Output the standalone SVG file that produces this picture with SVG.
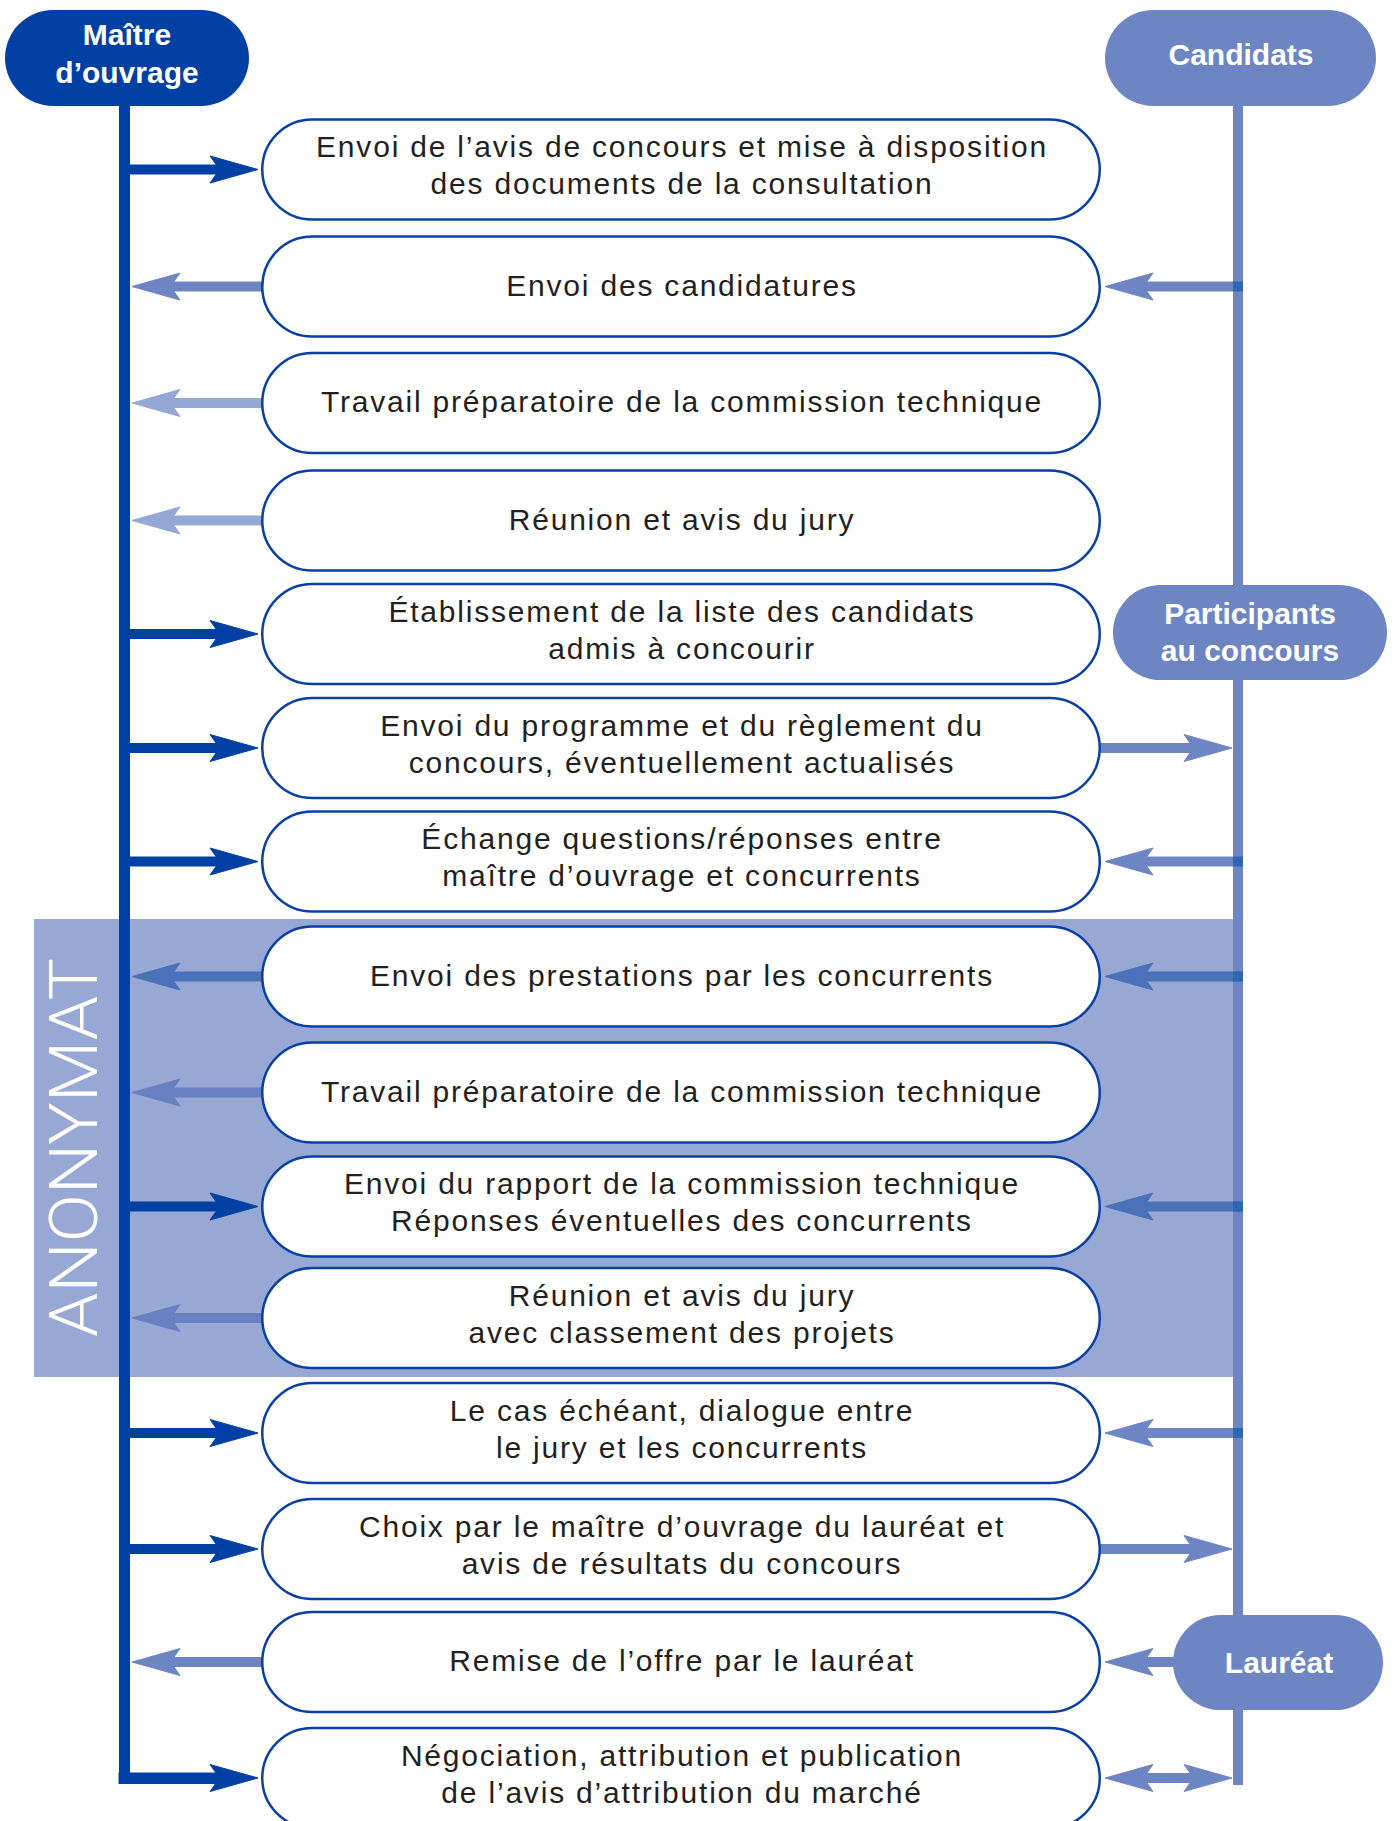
<svg xmlns="http://www.w3.org/2000/svg" xmlns:xlink="http://www.w3.org/1999/xlink" width="1395" height="1821" viewBox="0 0 1395 1821">
  <style>
    .box { fill: #ffffff; stroke: #0a40a2; stroke-width: 2.5; }
    .t { font-family: "Liberation Sans", Arial, sans-serif; font-size: 30px; letter-spacing: 1.8px; fill: #231f20; text-anchor: middle; }
    .pill-dark { fill: #0040a2; }
    .pill-light { fill: #6d86c3; }
    .pt { font-family: "Liberation Sans", Arial, sans-serif; font-size: 30px; font-weight: bold; fill: #ffffff; text-anchor: middle; }
    .anon { font-family: Roboto, "Liberation Sans", Arial, sans-serif; font-weight: 300; font-size: 67px; fill: #ffffff; text-anchor: middle; }
    .stem { stroke-width: 10; fill: none; }
    .dk { stroke: #0040a2; fill: #0040a2; }
    .md { stroke: #6d86c3; fill: #6d86c3; }
    .lt { stroke: #94a8d6; fill: #94a8d6; }
    .an1 { stroke: #4b71b9; fill: #4b71b9; }
    .an2 { stroke: #6781c1; fill: #6781c1; }
  </style>
  <defs>
    <!-- arrowheads with the tip at the origin -->
    <path id="headR" d="M0,0 L-48,-13.5 L-42,-5 L-42,5 L-48,13.5 Z"/>
    <path id="headL" d="M0,0 L48,-13.5 L42,-5 L42,5 L48,13.5 Z"/>
  </defs>

  <!-- anonymity band -->
  <g id="anonymat">
    <rect x="34" y="919" width="1200" height="458" fill="#97a8d4"/>
    <text class="anon" transform="translate(97,1147.5) rotate(-90)" x="0" y="0" textLength="379" lengthAdjust="spacingAndGlyphs">ANONYMAT</text>
  </g>

  <!-- lifelines and flows -->
  <g id="connectors">
    <!-- client lifeline -->
    <rect x="119" y="100" width="11" height="1683.5" fill="#0040a2"/>
    <!-- candidates lifeline -->
    <rect x="1233" y="100" width="10" height="490" fill="#6d86c3"/>
    <rect x="1233" y="675" width="10" height="945" fill="#6d86c3"/>
    <rect x="1233" y="1705" width="10" height="80" fill="#6d86c3"/>

    <!-- client to step -->
    <g class="dk">
      <line class="stem" x1="124" y1="169.5" x2="218" y2="169.5"/><use xlink:href="#headR" x="258" y="169.5"/>
      <line class="stem" x1="124" y1="634" x2="218" y2="634"/><use xlink:href="#headR" x="258" y="634"/>
      <line class="stem" x1="124" y1="748" x2="218" y2="748"/><use xlink:href="#headR" x="258" y="748"/>
      <line class="stem" x1="124" y1="861.5" x2="218" y2="861.5"/><use xlink:href="#headR" x="258" y="861.5"/>
      <line class="stem" x1="124" y1="1206.5" x2="218" y2="1206.5"/><use xlink:href="#headR" x="258" y="1206.5"/>
      <line class="stem" x1="124" y1="1433" x2="218" y2="1433"/><use xlink:href="#headR" x="258" y="1433"/>
      <line class="stem" x1="124" y1="1549" x2="218" y2="1549"/><use xlink:href="#headR" x="258" y="1549"/>
      <rect x="119" y="1773" width="99" height="10.5"/><use xlink:href="#headR" x="258" y="1778"/>
    </g>

    <!-- step to client -->
    <g class="md">
      <line class="stem" x1="174" y1="286.5" x2="263" y2="286.5"/><use xlink:href="#headL" x="132" y="286.5"/>
      <line class="stem" x1="174" y1="1662" x2="263" y2="1662"/><use xlink:href="#headL" x="132" y="1662"/>
    </g>
    <g class="lt">
      <line class="stem" x1="174" y1="403" x2="263" y2="403"/><use xlink:href="#headL" x="132" y="403"/>
      <line class="stem" x1="174" y1="520.5" x2="263" y2="520.5"/><use xlink:href="#headL" x="132" y="520.5"/>
    </g>
    <g class="an1">
      <line class="stem" x1="174" y1="976.5" x2="263" y2="976.5"/><use xlink:href="#headL" x="132" y="976.5"/>
    </g>
    <g class="an2">
      <line class="stem" x1="174" y1="1092.5" x2="263" y2="1092.5"/><use xlink:href="#headL" x="132" y="1092.5"/>
      <line class="stem" x1="174" y1="1318" x2="263" y2="1318"/><use xlink:href="#headL" x="132" y="1318"/>
    </g>

    <!-- candidates to step -->
    <g class="md">
      <line class="stem" x1="1146" y1="286.5" x2="1243" y2="286.5"/><use xlink:href="#headL" x="1105" y="286.5"/>
      <line class="stem" x1="1146" y1="861.5" x2="1243" y2="861.5"/><use xlink:href="#headL" x="1105" y="861.5"/>
      <line class="stem" x1="1146" y1="1433" x2="1243" y2="1433"/><use xlink:href="#headL" x="1105" y="1433"/>
      <line class="stem" x1="1146" y1="1662" x2="1180" y2="1662"/><use xlink:href="#headL" x="1105" y="1662"/>
    </g>
    <g class="an1">
      <line class="stem" x1="1146" y1="976.5" x2="1243" y2="976.5"/><use xlink:href="#headL" x="1105" y="976.5"/>
      <line class="stem" x1="1146" y1="1206.5" x2="1243" y2="1206.5"/><use xlink:href="#headL" x="1105" y="1206.5"/>
    </g>
    <!-- overlap of flows with the candidates lifeline -->
    <g fill="#2f65b1">
      <rect x="1233" y="281.5" width="10" height="10"/>
      <rect x="1233" y="856.5" width="10" height="10"/>
      <rect x="1233" y="971.5" width="10" height="10"/>
      <rect x="1233" y="1201.5" width="10" height="10"/>
      <rect x="1233" y="1428" width="10" height="10"/>
    </g>

    <!-- step to candidates -->
    <g class="md">
      <line class="stem" x1="1099" y1="748" x2="1190" y2="748"/><use xlink:href="#headR" x="1232" y="748"/>
      <line class="stem" x1="1099" y1="1549" x2="1190" y2="1549"/><use xlink:href="#headR" x="1232" y="1549"/>
      <line class="stem" x1="1146" y1="1778" x2="1190" y2="1778"/>
      <use xlink:href="#headL" x="1105" y="1778"/><use xlink:href="#headR" x="1232" y="1778"/>
    </g>
  </g>

  <!-- actors -->
  <g id="maitre-ouvrage">
    <rect class="pill-dark" x="5" y="10" width="244" height="96" rx="48"/>
    <text class="pt" x="127" y="45">Maître</text>
    <text class="pt" x="127" y="83">d’ouvrage</text>
  </g>
  <g id="candidats">
    <rect class="pill-light" x="1105" y="10" width="271" height="96" rx="48"/>
    <text class="pt" x="1241" y="65">Candidats</text>
  </g>
  <g id="participants">
    <rect class="pill-light" x="1113" y="585" width="274" height="95" rx="47.5"/>
    <text class="pt" x="1250" y="624">Participants</text>
    <text class="pt" x="1250" y="661">au concours</text>
  </g>
  <g id="laureat">
    <rect class="pill-light" x="1173" y="1615" width="210" height="95" rx="47.5"/>
    <text class="pt" x="1279" y="1673">Lauréat</text>
  </g>

  <!-- procedure steps -->
  <g id="step-01">
    <rect class="box" x="262.25" y="119.5" width="837.5" height="100" rx="50"/>
    <text class="t" x="682" y="157">Envoi de l’avis de concours et mise à disposition</text>
    <text class="t" x="682" y="194">des documents de la consultation</text>
  </g>
  <g id="step-02">
    <rect class="box" x="262.25" y="236.5" width="837.5" height="100" rx="50"/>
    <text class="t" x="682" y="295.5">Envoi des candidatures</text>
  </g>
  <g id="step-03">
    <rect class="box" x="262.25" y="353" width="837.5" height="100" rx="50"/>
    <text class="t" x="682" y="412">Travail préparatoire de la commission technique</text>
  </g>
  <g id="step-04">
    <rect class="box" x="262.25" y="470.5" width="837.5" height="100" rx="50"/>
    <text class="t" x="682" y="529.5">Réunion et avis du jury</text>
  </g>
  <g id="step-05">
    <rect class="box" x="262.25" y="584" width="837.5" height="100" rx="50"/>
    <text class="t" x="682" y="621.5">Établissement de la liste des candidats</text>
    <text class="t" x="682" y="658.5">admis à concourir</text>
  </g>
  <g id="step-06">
    <rect class="box" x="262.25" y="698" width="837.5" height="100" rx="50"/>
    <text class="t" x="682" y="735.5">Envoi du programme et du règlement du</text>
    <text class="t" x="682" y="772.5">concours, éventuellement actualisés</text>
  </g>
  <g id="step-07">
    <rect class="box" x="262.25" y="811.5" width="837.5" height="100" rx="50"/>
    <text class="t" x="682" y="849">Échange questions/réponses entre</text>
    <text class="t" x="682" y="886">maître d’ouvrage et concurrents</text>
  </g>
  <g id="step-08">
    <rect class="box" x="262.25" y="926.5" width="837.5" height="100" rx="50"/>
    <text class="t" x="682" y="985.5">Envoi des prestations par les concurrents</text>
  </g>
  <g id="step-09">
    <rect class="box" x="262.25" y="1042.5" width="837.5" height="100" rx="50"/>
    <text class="t" x="682" y="1101.5">Travail préparatoire de la commission technique</text>
  </g>
  <g id="step-10">
    <rect class="box" x="262.25" y="1156.5" width="837.5" height="100" rx="50"/>
    <text class="t" x="682" y="1194">Envoi du rapport de la commission technique</text>
    <text class="t" x="682" y="1231">Réponses éventuelles des concurrents</text>
  </g>
  <g id="step-11">
    <rect class="box" x="262.25" y="1268" width="837.5" height="100" rx="50"/>
    <text class="t" x="682" y="1305.5">Réunion et avis du jury</text>
    <text class="t" x="682" y="1342.5">avec classement des projets</text>
  </g>
  <g id="step-12">
    <rect class="box" x="262.25" y="1383" width="837.5" height="100" rx="50"/>
    <text class="t" x="682" y="1420.5">Le cas échéant, dialogue entre</text>
    <text class="t" x="682" y="1457.5">le jury et les concurrents</text>
  </g>
  <g id="step-13">
    <rect class="box" x="262.25" y="1499" width="837.5" height="100" rx="50"/>
    <text class="t" x="682" y="1536.5">Choix par le maître d’ouvrage du lauréat et</text>
    <text class="t" x="682" y="1573.5">avis de résultats du concours</text>
  </g>
  <g id="step-14">
    <rect class="box" x="262.25" y="1612" width="837.5" height="100" rx="50"/>
    <text class="t" x="682" y="1671">Remise de l’offre par le lauréat</text>
  </g>
  <g id="step-15">
    <rect class="box" x="262.25" y="1728" width="837.5" height="100" rx="50"/>
    <text class="t" x="682" y="1765.5">Négociation, attribution et publication</text>
    <text class="t" x="682" y="1802.5">de l’avis d’attribution du marché</text>
  </g>
</svg>
